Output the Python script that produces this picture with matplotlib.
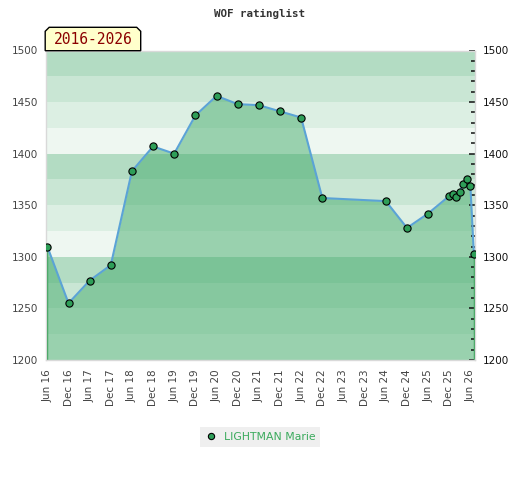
import pandas as pd
import matplotlib
matplotlib.use('Agg')
import matplotlib.pyplot as plt
import matplotlib.dates as mdates
from matplotlib.patches import Polygon
from matplotlib.lines import Line2D
from matplotlib.ticker import MultipleLocator

# datos
fechas = ['2016-06', '2016-12', '2017-06', '2017-12', '2018-06', '2018-12',
          '2019-06', '2019-12', '2020-06', '2020-12', '2021-06', '2021-12',
          '2022-06', '2022-12', '2024-06', '2024-12', '2025-06', '2025-12',
          '2026-01', '2026-02', '2026-03', '2026-04', '2026-05', '2026-06',
          '2026-07']
rating = [1310, 1255, 1277, 1292, 1383, 1407, 1400, 1437, 1456, 1448, 1447, 1441,
          1435, 1357, 1354, 1328, 1342, 1359, 1361, 1358, 1363, 1371, 1375, 1369,
          1303]
jugador = 'LIGHTMAN Marie'
titulo = 'WOF ratinglist'
ticks_x = pd.date_range('2016-06-01', '2026-06-01', freq='6MS')

x = pd.to_datetime(fechas)
W, H = 520, 480

fig = plt.figure(figsize=(W / 100, H / 100), dpi=100)
fig.patch.set_facecolor('white')
ax = fig.add_axes([45.7 / W, 1 - 360 / H, (475 - 45.7) / W, (360 - 50.5) / H])

# bandas de fondo (ciclo de 4 cada 100 puntos)
bandas = ['#b3dcc3', '#c9e6d4', '#dcefe3', '#eef7f1']
for lo in range(1200, 1500, 25):
    k = ((1475 - lo) // 25) % 4
    ax.axhspan(lo, lo + 25, color=bandas[k], lw=0, zorder=0)

ax.fill_between(x, rating, 1200, color='#45ac6c', alpha=0.5, lw=0, zorder=1)
ax.vlines([x[0], x[-1]], 1200, [rating[0], rating[-1]], color='#2e9e50', lw=1, zorder=2)
ax.plot(x, rating, color='#5ba3d6', lw=1.5, zorder=3)
ax.plot(x, rating, ls='none', marker='o', ms=5.2, mfc='#2e9e58', mec='black', mew=0.8, zorder=4)

ax.set_xlim(x[0] - pd.Timedelta(days=14), x[-1] + pd.Timedelta(days=10))
ax.set_ylim(1200, 1500)
ax.set_xticks(ticks_x)
ax.xaxis.set_major_formatter(mdates.DateFormatter('%b %y'))
ax.yaxis.set_major_locator(MultipleLocator(50))
ax.yaxis.set_minor_locator(MultipleLocator(10))

ax.tick_params(axis='x', length=0, pad=6.5, labelsize=7.5, labelcolor='#444444', labelrotation=90)
ax.tick_params(axis='y', which='both', left=False, right=True, labelleft=True, labelright=True,
               direction='in', color='#111111', pad=5.7, labelsize=7.5)
ax.tick_params(axis='y', which='major', length=4.2, width=1.1)
ax.tick_params(axis='y', which='minor', length=2.6, width=1.1)
for t in ax.yaxis.get_major_ticks():
    t.label1.set_color('#444444')
    t.label2.set_color('#111111')

for s in ax.spines.values():
    s.set_color('#d9d9d9')
    s.set_linewidth(1)

# titulo
fig.text(0.5, 1 - 13.5 / H, titulo, ha='center', va='center', family='DejaVu Sans Mono',
         weight='bold', fontsize=7.8, color='#333333')

# etiqueta de periodo
x0, x1, y0, y1, c = 45.2, 140.7, 27.3, 50.7, 4
pts = [(x0, y1), (x0, y0 + c), (x0 + c, y0), (x1 - c, y0), (x1, y0 + c), (x1, y1)]
pts = [(px / W, 1 - py / H) for px, py in pts]
fig.patches.append(Polygon(pts, closed=True, transform=fig.transFigure, facecolor='#ffffcc',
                           edgecolor='black', lw=1, zorder=5))
fig.text((x0 + x1) / 2 / W, 1 - 39.5 / H, f'{x[0].year}-{x[-1].year}', ha='center', va='center',
         family='DejaVu Sans Mono', fontsize=10.5, color='#8b0000', zorder=6)

# leyenda
h = Line2D([], [], ls='none', marker='o', ms=4.5, mfc='#2e9e58', mec='black', mew=0.8)
leg = fig.legend([h], [jugador], loc='center', bbox_to_anchor=(260 / W, 1 - 437 / H),
                 frameon=True, fancybox=False, facecolor='#efefef', edgecolor='none',
                 framealpha=1, fontsize=7.8, labelcolor='#3aaa5c', handlelength=1.2,
                 handletextpad=0.6, borderpad=0.45, borderaxespad=0)

fig.savefig('out.png', dpi=100)
